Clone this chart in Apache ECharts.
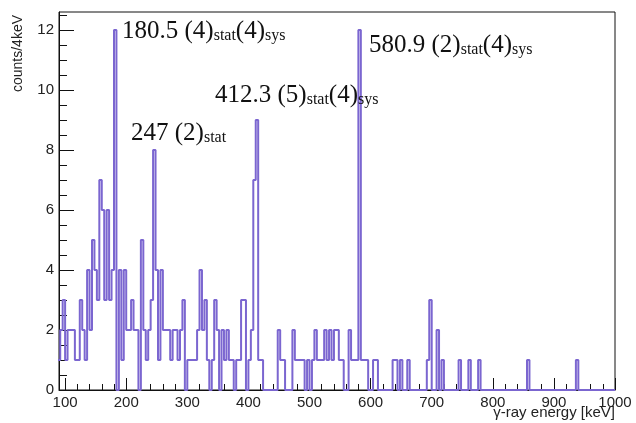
<!DOCTYPE html>
<html><head><meta charset="utf-8">
<script src="https://cdn.jsdelivr.net/npm/echarts@6/dist/echarts.min.js"></script>
<style>html,body{margin:0;padding:0;background:#fff}#c{width:636px;height:423px}</style>
</head><body><div id="c"></div>
<script>
// histogram: 4 keV bins, first bin low edge 88 keV
const binStart = 88;
const binWidth = 4;
const counts = [
  1,2,3,1,2,2,2,1,1,3,   // 88-128
  2,1,4,2,5,4,3,7,6,3,   // 128-168
  6,3,4,12,0,4,1,4,2,2,  // 168-208
  3,2,2,0,5,2,1,2,3,8,   // 208-248
  4,1,4,2,2,2,1,2,2,1,   // 248-288
  2,3,0,1,1,1,1,2,4,2,   // 288-328
  3,1,0,1,3,2,0,2,1,2,   // 328-368
  1,1,0,1,1,3,3,0,1,2,   // 368-408
  7,9,1,1,0,0,0,0,0,0,   // 408-448
  2,1,1,0,0,0,2,1,1,1,   // 448-488
  1,0,1,0,1,2,1,1,1,2,   // 488-528
  1,2,1,2,2,1,1,0,0,2,   // 528-568
  1,1,1,12,1,1,1,0,0,1,  // 568-608
  1,0,0,0,0,0,0,1,1,0,   // 608-648
  1,0,0,1,0,0,0,0,0,0,   // 648-688
  0,1,3,0,0,2,0,1,0,0,   // 688-728
  0,0,0,0,1,0,0,0,1,0,   // 728-768
  0,0,1,0,0,0,0,0,0,0,   // 768-808
  0,0,0,0,0,0,0,0,0,0,   // 808-848
  0,0,1,0,0,0,0,0,0,0,   // 848-888
  0,0,0,0,0,0,0,0,0,0,   // 888-928
  0,0,1,0,0,0,0,0,0,0,   // 928-968
  0,0,0,0,0,0,0,0        // 968-1000
];
const xMajorTicks = [100,200,300,400,500,600,700,800,900,1000];
const xMinorTicks = [120,140,160,180,220,240,260,280,320,340,360,380,420,440,460,480,520,540,560,580,620,640,660,680,720,740,760,780,820,840,860,880,920,940,960,980];
const yMajorTicks = [0,2,4,6,8,10,12];
const yMinorTicks = [0.5,1,1.5,2.5,3,3.5,4.5,5,5.5,6.5,7,7.5,8.5,9,9.5,10.5,11,11.5,12.5];
const peakLabels = [
  {main1:'180.5 (4)', sub1:'stat', main2:'(4)', sub2:'sys', x:122, y:14},
  {main1:'580.9 (2)', sub1:'stat', main2:'(4)', sub2:'sys', x:369, y:28},
  {main1:'412.3 (5)', sub1:'stat', main2:'(4)', sub2:'sys', x:215, y:78},
  {main1:'247 (2)', sub1:'stat', main2:'', sub2:'', x:131, y:116}
];

const pts = counts.map((c,i)=>[binStart+i*binWidth, c]);
pts.push([binStart+counts.length*binWidth, counts[counts.length-1]]);

const rich = {
  a:{fontFamily:'Liberation Serif', fontSize:25, lineHeight:30, verticalAlign:'bottom', fill:'#111'},
  b:{fontFamily:'Liberation Serif', fontSize:16, lineHeight:16, verticalAlign:'bottom', fill:'#111'}
};
const graphics = peakLabels.map(p=>({
  type:'text', x:p.x, y:p.y, z:100,
  style:{
    text:'{a|'+p.main1+'}{b|'+p.sub1+'}'+(p.main2?'{a|'+p.main2+'}':'')+(p.sub2?'{b|'+p.sub2+'}':''),
    rich:rich, verticalAlign:'top', align:'left'
  }
}));
graphics.push({type:'text', x:18, y:15, rotation:Math.PI/2,
  style:{text:'counts/4keV', font:'14px "Liberation Sans"', fill:'#222', align:'right', verticalAlign:'middle'}});
graphics.push({type:'text', x:615, y:413,
  style:{text:'γ-ray energy [keV]', font:'15px "Liberation Sans"', fill:'#222', align:'right', verticalAlign:'middle'}});

const fmt = v => String(Math.round(v));
const chart = echarts.init(document.getElementById('c'), null, {renderer:'canvas'});
chart.setOption({
  animation:false,
  backgroundColor:'#fff',
  grid:{left:59, right:21, top:12, bottom:33, show:true, borderColor:'#111', borderWidth:1, backgroundColor:'transparent'},
  xAxis:[{
    type:'value', min:90, max:1000, position:'bottom',
    axisLine:{show:true, onZero:false, lineStyle:{color:'#111', width:1}},
    axisTick:{show:true, inside:true, length:12, customValues:xMajorTicks, lineStyle:{color:'#111'}},
    axisLabel:{show:true, customValues:xMajorTicks, formatter:fmt, margin:5, color:'#222', fontFamily:'Liberation Sans', fontSize:15},
    splitLine:{show:false}
  },{
    type:'value', min:90, max:1000, position:'bottom',
    axisLine:{show:false},
    axisTick:{show:true, inside:true, length:6, customValues:xMinorTicks, lineStyle:{color:'#111'}},
    axisLabel:{show:false}, splitLine:{show:false}
  }],
  yAxis:[{
    type:'value', min:0, max:12.6, position:'left',
    axisLine:{show:true, onZero:false, lineStyle:{color:'#111', width:1}},
    axisTick:{show:true, inside:true, length:15, customValues:yMajorTicks, lineStyle:{color:'#111'}},
    axisLabel:{show:true, customValues:yMajorTicks, formatter:fmt, margin:5, color:'#222', fontFamily:'Liberation Sans', fontSize:15},
    splitLine:{show:false}
  },{
    type:'value', min:0, max:12.6, position:'left',
    axisLine:{show:false},
    axisTick:{show:true, inside:true, length:8, customValues:yMinorTicks, lineStyle:{color:'#111'}},
    axisLabel:{show:false}, splitLine:{show:false}
  }],
  series:[{
    type:'line', xAxisIndex:0, yAxisIndex:0, step:'end', data:pts,
    symbol:'none', clip:true,
    lineStyle:{color:'#7b66d0', width:2}
  }],
  graphic:graphics
});
</script></body></html>
